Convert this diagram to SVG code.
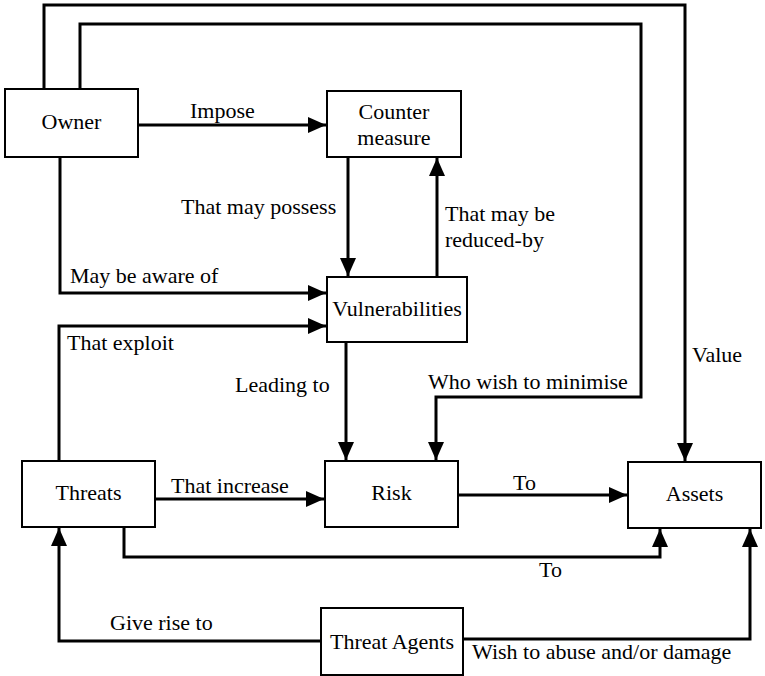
<svg xmlns="http://www.w3.org/2000/svg" width="765" height="676" viewBox="0 0 765 676">
  <style>
    .box { fill: #ffffff; stroke: #000000; stroke-width: 2; }
    .edge { fill: none; stroke: #000000; stroke-width: 3; stroke-linejoin: miter; }
    text { font-family: "Liberation Serif", "Times New Roman", serif; font-size: 22px; fill: #000000; }
    .c { text-anchor: middle; }
  </style>
  <defs>
    <marker id="arrow" markerUnits="userSpaceOnUse" markerWidth="19" markerHeight="17" refX="18" refY="8" orient="auto">
      <path d="M0,0 L18,8 L0,16 Z" fill="#000000"/>
    </marker>
  </defs>

  <rect width="765" height="676" fill="#ffffff"/>

  <!-- connectors -->
  <g id="connectors">
    <!-- Owner -> Assets (Value) -->
    <path class="edge" d="M44,89 V5 H685 V461" marker-end="url(#arrow)"/>
    <!-- Owner -> Risk (Who wish to minimise) -->
    <path class="edge" d="M80,89 V24 H641 V397 H436 V460" marker-end="url(#arrow)"/>
    <!-- Owner -> Counter measure (Impose) -->
    <path class="edge" d="M138,125 H326" marker-end="url(#arrow)"/>
    <!-- Owner -> Vulnerabilities (May be aware of) -->
    <path class="edge" d="M60,157 V293 H326" marker-end="url(#arrow)"/>
    <!-- Counter measure -> Vulnerabilities -->
    <path class="edge" d="M348,157 V276" marker-end="url(#arrow)"/>
    <!-- Vulnerabilities -> Counter measure -->
    <path class="edge" d="M437,277 V158" marker-end="url(#arrow)"/>
    <!-- Threats -> Vulnerabilities (That exploit) -->
    <path class="edge" d="M59,461 V326 H326" marker-end="url(#arrow)"/>
    <!-- Vulnerabilities -> Risk (Leading to) -->
    <path class="edge" d="M346,342 V460" marker-end="url(#arrow)"/>
    <!-- Threats -> Risk (That increase) -->
    <path class="edge" d="M155,499 H324" marker-end="url(#arrow)"/>
    <!-- Risk -> Assets (To) -->
    <path class="edge" d="M458,495 H627" marker-end="url(#arrow)"/>
    <!-- Threats -> Assets (To) -->
    <path class="edge" d="M124,527 V557 H660 V529" marker-end="url(#arrow)"/>
    <!-- Threat Agents -> Threats (Give rise to) -->
    <path class="edge" d="M321,641 H59 V528" marker-end="url(#arrow)"/>
    <!-- Threat Agents -> Assets (Wish to abuse and/or damage) -->
    <path class="edge" d="M463,639 H750 V529" marker-end="url(#arrow)"/>
  </g>

  <!-- connector labels -->
  <g id="labels">
    <text x="190" y="118">Impose</text>
    <text x="181" y="214">That may possess</text>
    <text x="445" y="221">That may be</text>
    <text x="445" y="247">reduced-by</text>
    <text x="70" y="283">May be aware of</text>
    <text x="67" y="350">That exploit</text>
    <text x="235" y="392">Leading to</text>
    <text x="428" y="389">Who wish to minimise</text>
    <text x="692" y="362">Value</text>
    <text x="171" y="493">That increase</text>
    <text x="513" y="490">To</text>
    <text x="539" y="577">To</text>
    <text x="110" y="630">Give rise to</text>
    <text x="472" y="659">Wish to abuse and/or damage</text>
  </g>

  <!-- nodes -->
  <g id="owner">
    <rect class="box" x="5" y="89" width="133" height="68"/>
    <text class="c" x="71.5" y="129">Owner</text>
  </g>
  <g id="counter-measure">
    <rect class="box" x="327" y="91" width="134" height="66"/>
    <text class="c" x="394" y="119">Counter</text>
    <text class="c" x="394" y="145">measure</text>
  </g>
  <g id="vulnerabilities">
    <rect class="box" x="327" y="277" width="140" height="65"/>
    <text class="c" x="397" y="316">Vulnerabilities</text>
  </g>
  <g id="threats">
    <rect class="box" x="22" y="461" width="133" height="66"/>
    <text class="c" x="88.5" y="500">Threats</text>
  </g>
  <g id="risk">
    <rect class="box" x="325" y="461" width="133" height="66"/>
    <text class="c" x="391.5" y="500">Risk</text>
  </g>
  <g id="assets">
    <rect class="box" x="628" y="462" width="133" height="66"/>
    <text class="c" x="694.5" y="501">Assets</text>
  </g>
  <g id="threat-agents">
    <rect class="box" x="321" y="608" width="142" height="67"/>
    <text class="c" x="392" y="649">Threat Agents</text>
  </g>
</svg>
